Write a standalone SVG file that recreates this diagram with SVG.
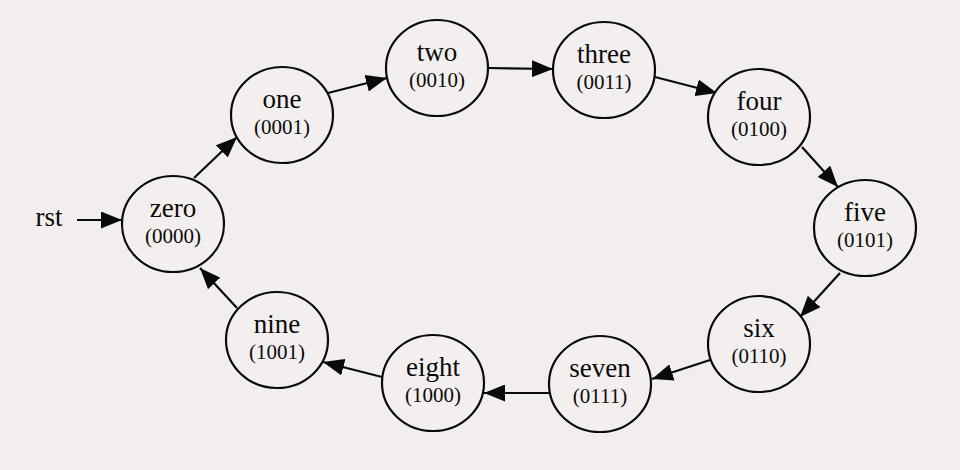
<svg xmlns="http://www.w3.org/2000/svg" width="960" height="470" viewBox="0 0 960 470">
<defs>
<style>
.st ellipse{fill:#f3efee;stroke:#0a0a0a;stroke-width:2.2}
.nm{font-family:"Liberation Serif","Times New Roman",serif;font-size:27px;fill:#0a0a0a;text-anchor:middle}
.cd{font-family:"Liberation Serif","Times New Roman",serif;font-size:21px;fill:#0a0a0a;text-anchor:middle}
#edges line{stroke:#0a0a0a;stroke-width:2.2;marker-end:url(#ah)}
</style>
<marker id="ah" markerUnits="userSpaceOnUse" markerWidth="21" markerHeight="17" refX="21" refY="8.5" orient="auto" viewBox="0 0 21 17">
<path d="M0,0 L21,8.5 L0,17 z" fill="#0a0a0a"/>
</marker>
</defs>
<rect x="0" y="0" width="960" height="470" fill="#f2eeed"/>
<g id="edges">
<line x1="77" y1="220" x2="122" y2="220"/>
<line x1="194" y1="178" x2="237" y2="137"/>
<line x1="328" y1="93" x2="387" y2="78"/>
<line x1="488" y1="68" x2="553" y2="69"/>
<line x1="655" y1="77" x2="717" y2="93"/>
<line x1="802" y1="147" x2="838" y2="187"/>
<line x1="840" y1="273" x2="800" y2="317"/>
<line x1="710" y1="360" x2="652" y2="379"/>
<line x1="549" y1="393" x2="484" y2="393"/>
<line x1="382" y1="377" x2="323" y2="362"/>
<line x1="237" y1="308" x2="200" y2="268"/>
</g>
<text x="49" y="226" class="nm">rst</text>
<g id="zero" class="st"><ellipse cx="173" cy="224" rx="51" ry="48"/><text x="173" y="217" class="nm">zero</text><text x="173" y="243" class="cd">(0000)</text></g>
<g id="one" class="st"><ellipse cx="282" cy="115" rx="51" ry="48"/><text x="282" y="108" class="nm">one</text><text x="282" y="134" class="cd">(0001)</text></g>
<g id="two" class="st"><ellipse cx="437" cy="68" rx="51" ry="48"/><text x="437" y="61" class="nm">two</text><text x="437" y="87" class="cd">(0010)</text></g>
<g id="three" class="st"><ellipse cx="604" cy="70" rx="51" ry="48"/><text x="604" y="63" class="nm">three</text><text x="604" y="89" class="cd">(0011)</text></g>
<g id="four" class="st"><ellipse cx="759" cy="117" rx="51" ry="48"/><text x="759" y="110" class="nm">four</text><text x="759" y="136" class="cd">(0100)</text></g>
<g id="five" class="st"><ellipse cx="865" cy="228" rx="51" ry="48"/><text x="865" y="221" class="nm">five</text><text x="865" y="247" class="cd">(0101)</text></g>
<g id="six" class="st"><ellipse cx="759" cy="344" rx="51" ry="48"/><text x="759" y="337" class="nm">six</text><text x="759" y="363" class="cd">(0110)</text></g>
<g id="seven" class="st"><ellipse cx="600" cy="384" rx="51" ry="48"/><text x="600" y="377" class="nm">seven</text><text x="600" y="403" class="cd">(0111)</text></g>
<g id="eight" class="st"><ellipse cx="433" cy="383" rx="51" ry="48"/><text x="433" y="376" class="nm">eight</text><text x="433" y="402" class="cd">(1000)</text></g>
<g id="nine" class="st"><ellipse cx="277" cy="340" rx="51" ry="48"/><text x="277" y="333" class="nm">nine</text><text x="277" y="359" class="cd">(1001)</text></g>
</svg>
